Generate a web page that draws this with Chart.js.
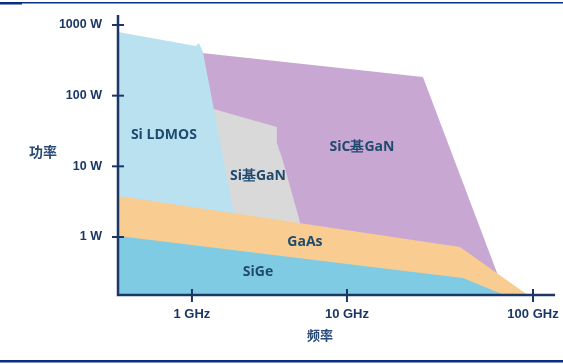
<!DOCTYPE html>
<html>
<head>
<meta charset="utf-8">
<script src="https://cdn.jsdelivr.net/npm/chart.js@4.4.1/dist/chart.umd.min.js"></script>
<style>
  html, body { margin: 0; padding: 0; background: #fff; }
  #wrap { width: 563px; height: 364px; }
</style>
</head>
<body>
<div id="wrap"><canvas id="powerChart" width="563" height="364"></canvas></div>
<script>
// ====== Data ======
// x is position along the frequency axis (1 GHz = 1, 10 GHz = 2, 100 GHz tick sits at 3.2),
// y is output power in W on a log axis
const xTickValues = [1, 2, 3.2];
const xTickLabels = ["1 GHz", "10 GHz", "100 GHz"];
const yTickValues = [1, 10, 100, 1000];
const yTickLabels = ["1 W", "10 W", "100 W", "1000 W"];

const regionNames = ["Si LDMOS", "SiC基GaN", "Si基GaN", "GaAs", "SiGe"];

const ldmosX = [0.523, 1.026, 1.045, 1.071, 1.284, 1.31];
const ldmosY = [796, 504, 556, 415, 1.48, 0.15];

const sicGanX = [1.065, 2.49, 2.968];
const sicGanY = [402, 184, 0.31];

const siGanX = [1.116, 1.548, 1.548, 1.581, 1.697];
const siGanY = [66.9, 36, 21.4, 13.1, 1.63];

const gaasX = [0.523, 2.729, 3.168];
const gaasY = [3.8, 0.72, 0.15];

const sigeX = [0.523, 2.213, 2.748, 3.019];
const sigeY = [1.03, 0.364, 0.263, 0.15];

// label anchors, same units as above
const labelX = [0.819, 2.097, 1.426, 1.729, 1.426];
const labelY = [27.7, 18.8, 7.3, 0.85, 0.32];

// ====== Helpers ======
const toPoints = (xs, ys) => xs.map((x, i) => ({ x, y: ys[i] }));

const region = (label, xs, ys, color, order) => ({
  label,
  data: toPoints(xs, ys),
  showLine: true,
  fill: "start",
  backgroundColor: color,
  borderColor: "rgba(0,0,0,0)",
  borderWidth: 0,
  pointRadius: 0,
  tension: 0,
  order,
});

const NAVY = "#1c3766";
const TEXT = "#1f4a6e";

// axis lines, crosses, titles, labels and page rules
const decorPlugin = {
  id: "decor",
  afterDatasetsDraw(chart) {
    const { ctx, scales } = chart;
    const xs = scales.x, ys = scales.y;
    const left = xs.left, bottom = ys.bottom;
    ctx.save();
    ctx.strokeStyle = NAVY;
    ctx.lineWidth = 2.5;
    ctx.beginPath();
    ctx.moveTo(left, ys.top);
    ctx.lineTo(left, bottom);
    ctx.lineTo(xs.right, bottom);
    ctx.stroke();
    ctx.lineWidth = 2;
    yTickValues.forEach((v) => {
      const py = ys.getPixelForValue(v);
      ctx.beginPath();
      ctx.moveTo(left - 6, py);
      ctx.lineTo(left + 6, py);
      ctx.stroke();
    });
    xTickValues.forEach((v) => {
      const px = xs.getPixelForValue(v);
      ctx.beginPath();
      ctx.moveTo(px, bottom - 6);
      ctx.lineTo(px, bottom + 7);
      ctx.stroke();
    });

    // region names
    ctx.fillStyle = TEXT;
    ctx.font = "bold 14px 'Open Sans', sans-serif";
    ctx.textAlign = "center";
    ctx.textBaseline = "middle";
    regionNames.forEach((name, i) => {
      ctx.fillText(name, xs.getPixelForValue(labelX[i]), ys.getPixelForValue(labelY[i]));
    });

    // axis titles
    ctx.fillStyle = "#2a4a78";
    ctx.font = "bold 14px 'Noto Sans CJK SC', sans-serif";
    ctx.fillText("功率", 43, 152);
    ctx.font = "bold 13px 'Noto Sans CJK SC', sans-serif";
    ctx.fillText("频率", 320, 335);

    // page rules
    ctx.fillStyle = "#0b2f80";
    ctx.fillRect(0, 2, chart.width, 1.5);
    ctx.fillRect(0, 2, 22, 2.5);
    ctx.fillRect(0, 360, chart.width, 2.5);
    ctx.restore();
  },
};

// ====== Chart ======
const ctx = document.getElementById("powerChart").getContext("2d");

new Chart(ctx, {
  type: "scatter",
  data: {
    datasets: [
      region(regionNames[1], sicGanX, sicGanY, "#c8a7d3", 5),
      region(regionNames[2], siGanX, siGanY, "#d9d9da", 4),
      region(regionNames[0], ldmosX, ldmosY, "#b9e1f0", 3),
      region(regionNames[3], gaasX, gaasY, "#f9cc92", 2),
      region(regionNames[4], sigeX, sigeY, "#7fcbe4", 1),
    ],
  },
  options: {
    responsive: false,
    animation: false,
    layout: { padding: { top: 15, right: 8, left: 0, bottom: 0 } },
    plugins: { legend: { display: false }, tooltip: { enabled: false } },
    scales: {
      x: {
        type: "linear",
        min: 0.523,
        max: 3.342,
        afterBuildTicks: (scale) => {
          scale.ticks = xTickValues.map((value) => ({ value }));
        },
        afterFit: (scale) => {
          scale.height = 69;
          scale.paddingLeft = 0;
          scale.paddingRight = 0;
        },
        grid: { display: false, drawTicks: false },
        border: { display: false },
        ticks: {
          padding: 12,
          color: NAVY,
          font: { family: "'Liberation Sans', Arial, sans-serif", size: 13, weight: "bold" },
          callback: (value, i) => xTickLabels[i],
        },
      },
      y: {
        type: "logarithmic",
        min: 0.151,
        max: 1385,
        afterBuildTicks: (scale) => {
          scale.ticks = yTickValues.map((value) => ({ value }));
        },
        afterFit: (scale) => {
          scale.width = 118;
          scale.paddingTop = 0;
          scale.paddingBottom = 0;
        },
        grid: { display: false, drawTicks: false },
        border: { display: false },
        ticks: {
          padding: 16,
          color: NAVY,
          font: { family: "'Liberation Sans', Arial, sans-serif", size: 12.5, weight: "bold" },
          callback: (value, i) => yTickLabels[i],
        },
      },
    },
  },
  plugins: [decorPlugin],
});
</script>
</body>
</html>
